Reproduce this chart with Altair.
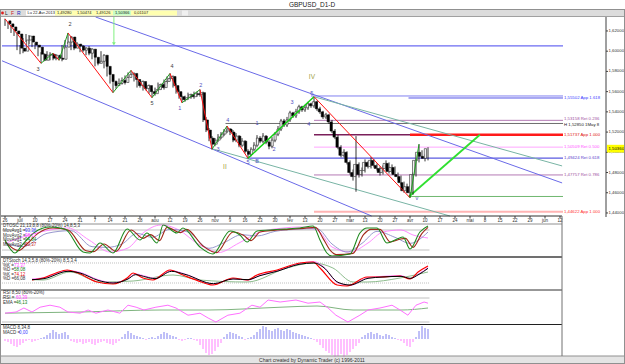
import altair as alt
import pandas as pd

FONT = "Liberation Sans"

# ---------------- daily candles ----------------
opens = [1.630, 1.627, 1.624, 1.620, 1.617, 1.603, 1.600, 1.611, 1.615, 1.609,
         1.606, 1.604, 1.597, 1.591, 1.596, 1.597, 1.593, 1.596, 1.593, 1.592,
         1.604, 1.609, 1.614, 1.603, 1.607, 1.605, 1.601, 1.603, 1.598, 1.602,
         1.594, 1.588, 1.590, 1.596, 1.585, 1.577, 1.570, 1.566, 1.568, 1.571,
         1.569, 1.574, 1.577, 1.578, 1.572, 1.566, 1.570, 1.563, 1.566, 1.560,
         1.558, 1.562, 1.567, 1.564, 1.570, 1.573, 1.575, 1.566, 1.560, 1.555,
         1.552, 1.554, 1.557, 1.555, 1.558, 1.557, 1.559, 1.532, 1.522, 1.514,
         1.508, 1.512, 1.515, 1.518, 1.521, 1.523, 1.520, 1.512, 1.516, 1.507,
         1.511, 1.501, 1.498, 1.503, 1.507, 1.514, 1.511, 1.516, 1.510, 1.506,
         1.512, 1.518, 1.523, 1.531, 1.527, 1.532, 1.539, 1.536, 1.540, 1.545,
         1.542, 1.544, 1.548, 1.546, 1.550, 1.543, 1.540, 1.535, 1.537, 1.530,
         1.521, 1.515, 1.505, 1.497, 1.500, 1.490, 1.480, 1.476, 1.488, 1.478,
         1.482, 1.490, 1.486, 1.492, 1.487, 1.484, 1.480, 1.484, 1.489, 1.481,
         1.485, 1.478, 1.476, 1.470, 1.462, 1.466, 1.460, 1.478, 1.492, 1.500,
         1.496, 1.494]
highs = [1.632, 1.629, 1.626, 1.622, 1.619, 1.606, 1.613, 1.617, 1.616, 1.612,
         1.608, 1.606, 1.599, 1.598, 1.600, 1.599, 1.598, 1.597, 1.595, 1.606,
         1.611, 1.618, 1.615, 1.610, 1.609, 1.607, 1.606, 1.604, 1.605, 1.603,
         1.596, 1.593, 1.600, 1.597, 1.587, 1.579, 1.572, 1.571, 1.573, 1.574,
         1.576, 1.579, 1.581, 1.579, 1.574, 1.572, 1.571, 1.568, 1.567, 1.562,
         1.564, 1.569, 1.568, 1.572, 1.575, 1.578, 1.576, 1.568, 1.562, 1.556,
         1.556, 1.559, 1.558, 1.560, 1.560, 1.562, 1.560, 1.535, 1.524, 1.516,
         1.514, 1.518, 1.520, 1.523, 1.526, 1.524, 1.522, 1.519, 1.517, 1.514,
         1.512, 1.503, 1.505, 1.510, 1.517, 1.516, 1.519, 1.517, 1.512, 1.515,
         1.520, 1.526, 1.533, 1.533, 1.535, 1.541, 1.540, 1.543, 1.547, 1.546,
         1.547, 1.550, 1.549, 1.555, 1.551, 1.545, 1.541, 1.539, 1.538, 1.532,
         1.523, 1.517, 1.507, 1.503, 1.501, 1.492, 1.483, 1.516, 1.490, 1.485,
         1.493, 1.491, 1.495, 1.493, 1.489, 1.486, 1.487, 1.492, 1.490, 1.488,
         1.486, 1.480, 1.477, 1.471, 1.469, 1.467, 1.480, 1.494, 1.508, 1.502,
         1.498, 1.505]
lows = [1.625, 1.622, 1.618, 1.615, 1.601, 1.597, 1.598, 1.609, 1.607, 1.604,
        1.602, 1.595, 1.588, 1.590, 1.594, 1.591, 1.591, 1.591, 1.591, 1.590,
        1.602, 1.607, 1.601, 1.601, 1.603, 1.599, 1.599, 1.596, 1.596, 1.592,
        1.585, 1.586, 1.588, 1.583, 1.575, 1.568, 1.559, 1.563, 1.566, 1.567,
        1.567, 1.572, 1.575, 1.570, 1.564, 1.564, 1.561, 1.561, 1.558, 1.554,
        1.556, 1.560, 1.562, 1.562, 1.568, 1.571, 1.564, 1.558, 1.553, 1.549,
        1.550, 1.552, 1.553, 1.553, 1.555, 1.555, 1.530, 1.520, 1.511, 1.503,
        1.506, 1.510, 1.513, 1.516, 1.519, 1.517, 1.510, 1.510, 1.505, 1.505,
        1.499, 1.494, 1.496, 1.501, 1.505, 1.509, 1.509, 1.508, 1.503, 1.504,
        1.510, 1.516, 1.521, 1.525, 1.525, 1.530, 1.534, 1.534, 1.538, 1.540,
        1.540, 1.542, 1.544, 1.544, 1.541, 1.538, 1.533, 1.533, 1.528, 1.519,
        1.513, 1.503, 1.495, 1.495, 1.488, 1.478, 1.472, 1.461, 1.475, 1.476,
        1.480, 1.484, 1.484, 1.485, 1.482, 1.477, 1.478, 1.482, 1.479, 1.479,
        1.476, 1.473, 1.468, 1.460, 1.460, 1.455, 1.458, 1.476, 1.490, 1.494,
        1.491, 1.492]
closes = [1.627, 1.624, 1.620, 1.617, 1.603, 1.600, 1.611, 1.615, 1.609, 1.606,
          1.604, 1.597, 1.591, 1.596, 1.597, 1.593, 1.596, 1.593, 1.592, 1.604,
          1.609, 1.614, 1.603, 1.607, 1.605, 1.601, 1.603, 1.598, 1.602, 1.594,
          1.588, 1.590, 1.596, 1.585, 1.577, 1.570, 1.566, 1.568, 1.571, 1.569,
          1.574, 1.577, 1.578, 1.572, 1.566, 1.570, 1.563, 1.566, 1.560, 1.558,
          1.562, 1.567, 1.564, 1.570, 1.573, 1.575, 1.566, 1.560, 1.555, 1.552,
          1.554, 1.557, 1.555, 1.558, 1.557, 1.559, 1.532, 1.522, 1.514, 1.508,
          1.512, 1.515, 1.518, 1.521, 1.523, 1.520, 1.512, 1.516, 1.507, 1.511,
          1.501, 1.498, 1.503, 1.507, 1.514, 1.511, 1.516, 1.510, 1.506, 1.512,
          1.518, 1.523, 1.531, 1.527, 1.532, 1.539, 1.536, 1.540, 1.545, 1.542,
          1.544, 1.548, 1.546, 1.550, 1.543, 1.540, 1.535, 1.537, 1.530, 1.521,
          1.515, 1.505, 1.497, 1.500, 1.490, 1.480, 1.476, 1.488, 1.478, 1.482,
          1.490, 1.486, 1.492, 1.487, 1.484, 1.480, 1.484, 1.489, 1.481, 1.485,
          1.478, 1.476, 1.470, 1.462, 1.466, 1.460, 1.478, 1.492, 1.500, 1.496,
          1.494, 1.5036]

price_ticks = [1.44, 1.46, 1.48, 1.50, 1.52, 1.54, 1.56, 1.58, 1.60, 1.62]
last_price = 1.5036

# ---------------- horizontal levels ----------------
level_price = [1.6052, 1.5557, 1.5537, 1.5316, 1.5285, 1.5174, 1.5174, 1.5051, 1.4942, 1.4776, 1.4563, 1.4412]
level_from = [-1, 102, 134.5, 103, 73.5, 103, 135, 103, 80.5, 103, 134.5, 103]
level_color = ["#6b6bf2", "#8080f0", "#5555e6", "#b47ab4", "#6e6e6e", "#7a1f5a", "#ff1a1a",
               "#ffa6ff", "#5a5ae0", "#b47ab4", "#70b870", "#ffb4b4"]
level_width = [1.2, 1, 1, 1, 1, 1.5, 2.5, 1, 1.2, 1, 1, 2]
level_text = ["", "", "1,55502 App 1.618", "1,53158 Ret 0.236", "H 1,52850 1May 8", "",
              "1,51737 App 1.000", "1,50509 Ret 0.500", "1,49424 Ret 0.618", "1,47757 Ret 0.786",
              "", "1,44622 App 1.000"]
level_text_color = ["#000000", "#000000", "#3c3cff", "#a050a0", "#202020", "#000000", "#e01010",
                    "#ff50ff", "#5a3ccc", "#a050a0", "#000000", "#ff3030"]
level_text_dy = [0, 0, 0, -1, 1.2, 0, 0, 0, 0, 0, 0, 0]

# ---------------- trend / channel lines ----------------
trend_i1 = [30.2, -1, 69.3, 103.3, 134.7]
trend_p1 = [1.6338, 1.5905, 1.5033, 1.5547, 1.4563]
trend_i2 = [185.7, 122.2, 148.3, 185.7, 158.3]
trend_p2 = [1.4697, 1.4370, 1.4370, 1.4865, 1.5174]
trend_color = ["#6a6ae8", "#6a6ae8", "#78b4a4", "#78b4a4", "#30e030"]
trend_width = [1, 1, 1, 1, 1.8]

# ---------------- wave zigzag ----------------
zz_i = [0, 12, 16, 18, 21, 36, 42, 49, 55, 59, 65, 69, 74, 81, 103, 135, 138]
zz_p = [1.632, 1.588, 1.598, 1.591, 1.618, 1.559, 1.581, 1.554, 1.578, 1.549, 1.562,
        1.503, 1.526, 1.494, 1.555, 1.455, 1.508]

# ---------------- wave labels ----------------
wave_text = ["2", "3", "4", "5", "2", "1", "4", "1", "3", "5", "4", "3", "2", "5", "B", "II", "IV", "v"]
wave_i = [21.7, 11, 55.7, 49, 65.3, 58.3, 74.3, 84, 95.7, 102.3, 101.3, 71, 89.7, 81, 84, 73.3, 102.3, 137.3]
wave_p = [1.6269, 1.5824, 1.5854, 1.5488, 1.5666, 1.5438, 1.5320, 1.5290, 1.5498, 1.5587,
          1.5280, 1.5033, 1.5033, 1.4904, 1.4914, 1.4855, 1.5745, 1.4548]
wave_color = ["#404040", "#404040", "#404040", "#404040", "#5050c0", "#5050c0", "#5050c0",
              "#5050c0", "#5050c0", "#5050c0", "#5050c0", "#5050c0", "#5050c0", "#5050c0",
              "#5050c0", "#a0a040", "#a0a040", "#5050c0"]

# ---------------- date axis ----------------
date_i = list(range(0, 186, 5))
date_text = ["26", "juil", "10", "17", "24", "31", "7", "14", "21", "28", "aou", "12", "19",
             "26", "nov", "9", "16", "23", "30", "fev", "13", "20", "27", "mar", "13", "20",
             "27", "avr", "10", "17", "24", "mai", "8", "15", "22", "29", "jun", "12"]

# ---------------- DTOSC ----------------
dtosc_fast_i = [0, 3.3, 5.7, 10, 15, 20, 26, 28.3, 31.7, 36, 40.7, 45, 47.3, 50.7, 52.7, 57.3, 59.3, 65,
                69.3, 75, 78.3, 80.7, 84, 88.3, 93.3, 98.3, 102.7, 105, 107.3, 109, 115, 118.3, 120.7,
                124, 127.3, 130.7, 132.7, 135, 138.3, 141]
dtosc_fast_v = [50, 11, 35, 74, 89, 83, 14, 11, 41, 11, 83, 50, 71, 41, 95, 71, 86, 29, 8, 77, 65, 44,
                77, 80, 83, 86, 92, 50, 11, 2, 8, 71, 86, 86, 41, 53, 59, 23, 74, 92]
dtosc_red_i = [0, 4.5, 7, 11, 16, 21, 27, 29.5, 33, 37, 42, 46, 48.5, 51.5, 54, 58.5, 60.5, 66, 70.5,
               76, 79.5, 82, 85, 89.5, 94.5, 99.5, 103.5, 106, 108.5, 110.5, 116, 119.5, 122, 125,
               128.5, 131.5, 133.5, 136, 139, 141]
dtosc_red_v = [45, 18, 35, 70, 86, 80, 18, 15, 38, 16, 80, 55, 66, 48, 88, 72, 82, 32, 12, 74, 64, 48,
               74, 79, 82, 85, 88, 55, 18, 6, 10, 66, 82, 82, 44, 52, 55, 28, 70, 88]
dtosc_blue_i = [0, 6, 14, 22, 29, 34, 39, 44, 49, 55, 61, 68, 73, 79, 84, 90, 97, 104, 109, 114, 119,
                124, 130, 135, 141]
dtosc_blue_v = [40, 30, 70, 78, 30, 28, 38, 70, 58, 82, 74, 25, 42, 66, 62, 76, 82, 84, 38, 14, 40, 76,
                58, 40, 74]
dtosc_mag_i = [0, 8, 15, 21, 28, 35, 41, 46, 52, 58, 64, 68, 71, 78, 85, 93, 98, 104, 109, 115, 121,
               126, 132, 136, 141]
dtosc_mag_v = [40, 65, 80, 86, 50, 14, 26, 71, 95, 80, 40, 22, 12, 41, 74, 86, 89, 80, 29, 14, 41, 74,
               80, 65, 56]

# ---------------- DTStoch ----------------
stoch_red_i = [9, 12.7, 17, 20.7, 24.3, 30.7, 36, 40.7, 42.7, 46, 49.3, 55, 59.3, 64, 69.3, 76, 80.7,
               84, 90.7, 98.3, 102.7, 105, 110.7, 114, 120.7, 125, 131.7, 135, 137.7, 141]
stoch_red_v = [29, 35, 50, 59, 50, 23, 17, 35, 50, 35, 29, 59, 44, 28, 14, 35, 29, 44, 59, 80, 83, 65,
               14, 11, 38, 38, 41, 32, 53, 71]
stoch_d_i = [9, 13, 21, 25, 31, 36, 41, 43.5, 47, 50, 55.5, 60, 69.5, 76, 81, 85, 91, 98, 103, 106,
             111, 115, 121, 126, 132, 135, 138, 141]
stoch_blk_v = [30, 33, 55, 50, 28, 20, 32, 45, 38, 33, 55, 46, 18, 32, 30, 42, 56, 76, 80, 68, 22, 14,
               34, 38, 40, 34, 46, 64]
stoch_mag_v = [32, 36, 57, 52, 30, 21, 33, 47, 40, 34, 57, 47, 17, 33, 29, 43, 57, 78, 84, 70, 20, 13,
               36, 40, 42, 33, 48, 66]
stoch_grn_i = [9, 12.7, 21.7, 31.7, 42.7, 56, 65, 80.7, 94, 102.7, 109.3, 116, 120.7, 131.7, 141]
stoch_grn_v = [30, 29, 53, 23, 26, 44, 29, 23, 65, 80, 65, 23, 23, 35, 53]

# ---------------- RSI ----------------
rsi_i = [0, 3.7, 6.3, 9, 11.7, 15, 18.3, 21, 25, 27.7, 30.3, 34.3, 38.3, 41, 43.7, 46.3, 50.3, 54.3,
         57, 61, 65, 67.7, 70.3, 74.3, 78.3, 82.3, 85, 87.7, 91.7, 97, 101, 105, 107.7, 110.3, 114.3,
         118.3, 121, 125, 129, 131.7, 134.3, 137, 139.7, 141]
rsi_v = [42, 45, 55, 45, 57, 62, 57, 45, 42, 50, 42, 50, 42, 62, 57, 50, 57, 62, 55, 37, 42, 30, 20,
         37, 42, 62, 57, 75, 70, 75, 67, 70, 55, 37, 20, 37, 50, 55, 62, 50, 37, 62, 70, 67]
ema_i = [0, 25, 52, 68, 92, 104, 116, 132, 141]
ema_v = [42, 45, 50, 50, 57, 60, 50, 50, 55]

# ---------------- MACD histogram ----------------
macd_hist = [-2, -3,
             -5, -7, -8, -6, -4,
             -2, -1, -3, -2, -1, 1,
             2, 4, 6, 9, 7, 5, 6, 7, 4,
             -2, -3, -4, -3, -5, -4, -3, -5, -6, -4, -3, -2, -4, -5, -6, -4, -2,
             2, 5, 8, 6, 4, 3, 2,
             1, -1, 1, 2, 1,
             3, 5, 7, 6, 4, 3, 2,
             -1, -2, -1, 1, 1, -1, -2,
             -6, -10, -14, -16, -15, -12, -8, -4,
             2, 5, 7, 6, 5, 3, 2,
             -1, 1, 2,
             4, 7, 10, 13, 12, 9, 8, 10, 11, 9, 8, 10, 9, 7, 6, 5, 4, 3,
             2, 1, -1, -3,
             -6, -9, -12, -14, -16, -18, -17, -15, -18, -16, -13, -10, -7, -4,
             2, 4, 6, 7, 5, 6, 4, 3, 5, 4, 2, 1,
             -1, -2, -4, -7, -8,
             -3, 2, 8, 13, 11, 10]

# =====================================================================
XD, XR = [-1, 186], [2, 563]


def xs():
    return alt.Scale(domain=XD, range=XR, nice=False, zero=False)


def ysc(dom, rng):
    return alt.Scale(domain=dom, range=rng, nice=False, zero=False)


PDOM, PRNG = [1.4370, 1.6338], [216, 17]
DT_RNG = [256.67, 223.33]
ST_RNG = [289.67, 256.33]
RSI_RNG = [330, 290]
MACD_DOM, MACD_RNG = [-20, 20], [359, 319]


def X(f):
    return alt.X(f, scale=xs(), axis=None)


def YP(f):
    return alt.Y(f, scale=ysc(PDOM, PRNG), axis=None)


layers = []

# ---- pixel decorations (backgrounds)
bg = pd.DataFrame({
    "x1": [0, 26, 55, 113, 182, 0],
    "x2": [625, 55, 177, 131, 188, 625],
    "y1": [9.5, 10.5, 10.5, 10.5, 10.5, 356],
    "y2": [16.5, 15.5, 15.5, 15.5, 15.5, 364],
    "c": ["#dcdcdc", "#ffffff", "#ffffb0", "#c8ffc8", "#f0f0f0", "#e4e4e4"],
})
layers.append(alt.Chart(bg).mark_rect().encode(
    x=alt.X("x1:Q", scale=None, axis=None), x2="x2:Q",
    y=alt.Y("y1:Q", scale=None, axis=None), y2="y2:Q",
    color=alt.Color("c:N", scale=None)))

# ---- levels
lv = pd.DataFrame({"p": level_price, "i1": level_from, "i2": [186] * len(level_price),
                   "c": level_color, "w": level_width, "t": level_text, "tc": level_text_color})
lv["pt"] = [p - d * 0.000989 for p, d in zip(level_price, level_text_dy)]
layers.append(alt.Chart(lv).mark_rule().encode(
    x=X("i1:Q"), x2="i2:Q", y=YP("p:Q"),
    color=alt.Color("c:N", scale=None), strokeWidth=alt.StrokeWidth("w:Q", scale=None)))
layers.append(alt.Chart(lv).mark_text(align="left", baseline="middle", dx=1, font=FONT, fontSize=4.3).encode(
    x=X("i2:Q"), y=YP("pt:Q"), text="t:N", color=alt.Color("tc:N", scale=None)))

# ---- trend lines
tr = pd.DataFrame({"i1": trend_i1, "p1": trend_p1, "i2": trend_i2, "p2": trend_p2,
                   "c": trend_color, "w": trend_width})
layers.append(alt.Chart(tr).mark_rule().encode(
    x=X("i1:Q"), x2="i2:Q", y=YP("p1:Q"), y2="p2:Q",
    color=alt.Color("c:N", scale=None), strokeWidth=alt.StrokeWidth("w:Q", scale=None)))

# ---- candles
bars = pd.DataFrame({"i": list(range(len(closes))), "o": opens, "h": highs, "l": lows, "c": closes})
bars["top"] = bars[["o", "c"]].max(axis=1)
bars["bot"] = bars[["o", "c"]].min(axis=1)
bars["fill"] = ["#f4f4f4" if c >= o else "#000000" for o, c in zip(opens, closes)]
layers.append(alt.Chart(bars).mark_rule(color="#000000", strokeWidth=0.8).encode(
    x=X("i:Q"), y=YP("l:Q"), y2="h:Q"))
layers.append(alt.Chart(bars).mark_bar(size=2.2, stroke="#000000", strokeWidth=0.5).encode(
    x=X("i:Q"), y=YP("bot:Q"), y2="top:Q", color=alt.Color("fill:N", scale=None)))

# ---- zigzag
zz = pd.DataFrame({"i1": zz_i[:-1], "p1": zz_p[:-1], "i2": zz_i[1:], "p2": zz_p[1:]})
zz["c"] = ["#ff1010" if b < a else "#1fa01f" for a, b in zip(zz_p[:-1], zz_p[1:])]
zz["w"] = [1.0] * len(zz)
zz.loc[13, "c"] = "#10d010"
zz.loc[13, "w"] = 1.4
layers.append(alt.Chart(zz).mark_rule().encode(
    x=X("i1:Q"), x2="i2:Q", y=YP("p1:Q"), y2="p2:Q",
    color=alt.Color("c:N", scale=None), strokeWidth=alt.StrokeWidth("w:Q", scale=None)))

# ---- wave labels
wl = pd.DataFrame({"i": wave_i, "p": wave_p, "t": wave_text, "c": wave_color})
wl["s"] = [6.5 if t in ("II", "IV") else 5.5 for t in wave_text]
layers.append(alt.Chart(wl).mark_text(font=FONT, baseline="middle").encode(
    x=X("i:Q"), y=YP("p:Q"), text="t:N", color=alt.Color("c:N", scale=None),
    size=alt.Size("s:Q", scale=None)))

# ---- green arrow
arr = pd.DataFrame({"i": [36.3], "p1": [1.6338], "p2": [1.6078], "pt": [1.6072]})
layers.append(alt.Chart(arr).mark_rule(color="#80f080", strokeWidth=1).encode(
    x=X("i:Q"), y=YP("p1:Q"), y2="p2:Q"))
layers.append(alt.Chart(arr).mark_point(shape="triangle-down", size=14, filled=True, color="#80f080", opacity=1).encode(
    x=X("i:Q"), y=YP("pt:Q")))

# ---- price axis (right)
pt = pd.DataFrame({"p": price_ticks,
                   "t": [("%.5f" % v).replace(".", ",") for v in price_ticks]})
layers.append(alt.Chart(pt).mark_rule(color="#404040").encode(
    x=alt.value(606), x2=alt.value(608), y=YP("p:Q")))
layers.append(alt.Chart(pt).mark_text(align="left", baseline="middle", font=FONT, fontSize=4.3, color="#303030").encode(
    x=alt.value(608.5), y=YP("p:Q"), text="t:N"))
lp = pd.DataFrame({"p": [last_price], "t": [("%.5f" % last_price).replace(".", ",")]})
lp["p1"] = lp["p"] + 0.0038
lp["p2"] = lp["p"] - 0.0038
layers.append(alt.Chart(lp).mark_rect(color="#ffff00").encode(
    x=alt.value(607), x2=alt.value(624), y=YP("p1:Q"), y2="p2:Q"))
layers.append(alt.Chart(lp).mark_text(align="left", baseline="middle", font=FONT, fontSize=4.3, color="#000000").encode(
    x=alt.value(608.5), y=YP("p:Q"), text="t:N"))

# ---- date axis
dd = pd.DataFrame({"i": date_i, "t": date_text})
layers.append(alt.Chart(dd).mark_rule(color="#404040").encode(
    x=X("i:Q"), y=alt.value(216), y2=alt.value(218.5)))
layers.append(alt.Chart(dd).mark_text(baseline="middle", font=FONT, fontSize=4.5, color="#303030").encode(
    x=X("i:Q"), y=alt.value(221), text="t:N"))


# ---- oscillator helper
def osc_layer(parts, rng, width=1.0, interp="monotone", dom=(0, 100)):
    frames = []
    for name, ii, vv, col in parts:
        frames.append(pd.DataFrame({"i": ii, "v": vv, "s": name, "c": col}))
    df = pd.concat(frames, ignore_index=True)
    return alt.Chart(df).mark_line(strokeWidth=width, interpolate=interp).encode(
        x=X("i:Q"), y=alt.Y("v:Q", scale=ysc(list(dom), rng), axis=None),
        color=alt.Color("c:N", scale=None), detail="s:N")


def ref_layer(vals, rng, col="#c0c0c0", dash=None, dom=(0, 100)):
    df = pd.DataFrame({"v": vals, "i1": [-1] * len(vals), "i2": [141.5] * len(vals)})
    kw = {"color": col, "strokeWidth": 1}
    if dash:
        kw["strokeDash"] = dash
    return alt.Chart(df).mark_rule(**kw).encode(
        x=X("i1:Q"), x2="i2:Q", y=alt.Y("v:Q", scale=ysc(list(dom), rng), axis=None))


# DTOSC
layers.append(ref_layer([80, 20], DT_RNG))
layers.append(osc_layer([("mag", dtosc_mag_i, dtosc_mag_v, "#ff80ff"),
                         ("blue", dtosc_blue_i, dtosc_blue_v, "#8c8cc8")], DT_RNG, width=0.9))
layers.append(osc_layer([("red", dtosc_red_i, dtosc_red_v, "#a02818"),
                         ("grn", dtosc_fast_i, dtosc_fast_v, "#1e8a1e")], DT_RNG, width=1.1))
# Stoch
layers.append(ref_layer([80, 20], ST_RNG, dash=[1, 1]))
layers.append(osc_layer([("g", stoch_grn_i, stoch_grn_v, "#80b480"),
                         ("m", stoch_d_i, stoch_mag_v, "#ff70ff")], ST_RNG, width=0.9))
layers.append(osc_layer([("r", stoch_red_i, stoch_red_v, "#ff0000")], ST_RNG, width=1.2))
layers.append(osc_layer([("k", stoch_d_i, stoch_blk_v, "#000000")], ST_RNG, width=1.0))
# RSI
layers.append(ref_layer([80, 20], RSI_RNG))
layers.append(osc_layer([("ema", ema_i, ema_v, "#80b480")], RSI_RNG))
layers.append(osc_layer([("rsi", rsi_i, rsi_v, "#ff70ff")], RSI_RNG, interp="linear"))
# MACD
mh = pd.DataFrame({"i": list(range(len(macd_hist))), "v": macd_hist, "z": [0] * len(macd_hist)})
mh["c"] = ["#8080f0" if v >= 0 else "#ff80ff" for v in macd_hist]
layers.append(alt.Chart(mh).mark_rule(strokeWidth=1).encode(
    x=X("i:Q"), y=alt.Y("z:Q", scale=ysc(MACD_DOM, MACD_RNG), axis=None), y2="v:Q",
    color=alt.Color("c:N", scale=None)))

# ---- frame lines (pixel)
fr = pd.DataFrame({
    "x1": [0, 0, 0, 0, 0, 0, 0, 0, 562, 606, 0.5, 624.5, 0],
    "x2": [625, 625, 562, 562, 562, 562, 562, 625, 562, 606, 0.5, 624.5, 625],
    "y1": [9.5, 16.5, 216, 224, 257, 290, 324.5, 356, 216, 17, 9, 9, 363.5],
    "y2": [9.5, 16.5, 216, 224, 257, 290, 324.5, 356, 356, 217, 364, 364, 363.5],
    "c": ["#909090", "#a0a0a0", "#303030", "#909090", "#707070", "#303030", "#202020", "#909090",
          "#707070", "#404040", "#909090", "#909090", "#909090"],
    "w": [1, 1, 1, 1, 2.2, 1, 1.2, 1, 1, 1, 1, 1, 1],
})
layers.append(alt.Chart(fr).mark_rule().encode(
    x=alt.X("x1:Q", scale=None, axis=None), x2="x2:Q",
    y=alt.Y("y1:Q", scale=None, axis=None), y2="y2:Q",
    color=alt.Color("c:N", scale=None), strokeWidth=alt.StrokeWidth("w:Q", scale=None)))

# ---- texts (pixel)
tx = pd.DataFrame([
    (312, 4.5, "GBPUSD_D1-D", "#202020", 6.5, "center"),
    (5, 13, "L", "#202020", 5, "left"),
    (11, 13, "F", "#d02020", 5, "left"),
    (17, 13, "R", "#2020c0", 5, "left"),
    (27.5, 13, "Lu 22-Avr-2013", "#202020", 4, "left"),
    (57, 13, "1,49280", "#202020", 4, "left"),
    (77, 13, "1,50474", "#202020", 4, "left"),
    (96, 13, "1,49126", "#202020", 4, "left"),
    (115, 13, "1,50366", "#202020", 4, "left"),
    (134, 13, "0,01107", "#202020", 4, "left"),
    (3, 226, "DTOSC 21,13,8,8 (80%-20%) 14,8,5,3", "#303030", 4.5, "left"),
    (3, 231, "MovAvg1 =", "#303030", 4.5, "left"),
    (3, 235.5, "MovAvg2 =", "#303030", 4.5, "left"),
    (3, 240, "MovAvg1 =", "#303030", 4.5, "left"),
    (3, 244.5, "MovAvg2 =", "#303030", 4.5, "left"),
    (25, 231, "93,36", "#4040ff", 4.5, "left"),
    (25, 235.5, "98,17", "#ff40ff", 4.5, "left"),
    (25, 240, "94,84", "#108010", 4.5, "left"),
    (25, 244.5, "93,37", "#c01010", 4.5, "left"),
    (3, 261, "DTStoch 14,3,5,8 (80%-20%) 8,5,3,4", "#303030", 4.5, "left"),
    (3, 265.5, "%K =", "#303030", 4.5, "left"),
    (3, 270, "%D =", "#303030", 4.5, "left"),
    (3, 274.5, "%K =", "#303030", 4.5, "left"),
    (3, 279, "%D =", "#303030", 4.5, "left"),
    (14, 265.5, "73,37", "#ff40ff", 4.5, "left"),
    (14, 270, "58,08", "#108010", 4.5, "left"),
    (14, 274.5, "74,12", "#e01010", 4.5, "left"),
    (14, 279, "66,08", "#303030", 4.5, "left"),
    (3, 293, "RSI 8,50 (80%-20%)", "#303030", 4.5, "left"),
    (3, 298, "RSI =", "#303030", 4.5, "left"),
    (3, 303, "EMA =", "#303030", 4.5, "left"),
    (16, 298, "60,39", "#ff40ff", 4.5, "left"),
    (16, 303, "46,13", "#108010", 4.5, "left"),
    (3, 328, "MACD 8,34,8", "#303030", 4.5, "left"),
    (3, 333, "MACD =", "#303030", 4.5, "left"),
    (19, 333, "0,00", "#4040ff", 4.5, "left"),
    (312, 360, "Chart created by Dynamic Trader (c) 1996-2011", "#303030", 5, "center"),
], columns=["x", "y", "t", "c", "s", "a"])
for al in ["left", "center"]:
    sub = tx[tx["a"] == al]
    layers.append(alt.Chart(sub).mark_text(align=al, baseline="middle", font=FONT).encode(
        x=alt.X("x:Q", scale=None, axis=None), y=alt.Y("y:Q", scale=None, axis=None),
        text="t:N", color=alt.Color("c:N", scale=None), size=alt.Size("s:Q", scale=None)))
dot = pd.DataFrame({"x": [2.5], "y": [13]})
layers.append(alt.Chart(dot).mark_point(filled=True, size=8, color="#e02020", opacity=1).encode(
    x=alt.X("x:Q", scale=None, axis=None), y=alt.Y("y:Q", scale=None, axis=None)))

chart = alt.layer(*layers).resolve_scale(x="independent", y="independent").properties(
    width=606, height=364,
    padding={"left": 0, "top": 0, "right": 19, "bottom": 0},
    autosize=alt.AutoSizeParams(type="none"),
    background="#ffffff",
).configure_view(stroke=None)

chart.save("out.html", embed_options={"renderer": "svg", "actions": False})
